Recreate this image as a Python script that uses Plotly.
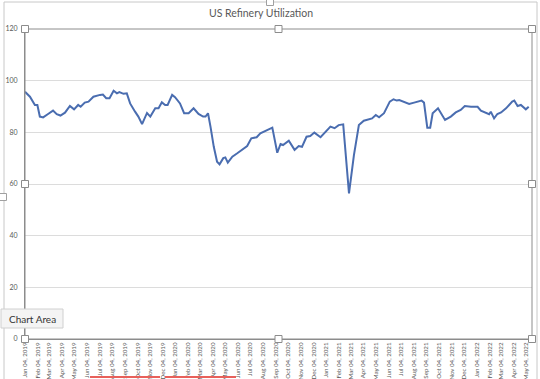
import plotly.graph_objects as go

dates = [
    "2019-01-04", "2019-01-16", "2019-01-28", "2019-02-03", "2019-02-09", "2019-02-17",
    "2019-03-01", "2019-03-13", "2019-03-22", "2019-03-31", "2019-04-11", "2019-04-23",
    "2019-05-03", "2019-05-13", "2019-05-19", "2019-05-29", "2019-06-07", "2019-06-19",
    "2019-07-05", "2019-07-12", "2019-07-20", "2019-07-28", "2019-08-07", "2019-08-15",
    "2019-08-21", "2019-08-31", "2019-09-08", "2019-09-16", "2019-09-28", "2019-10-06",
    "2019-10-15", "2019-10-27", "2019-11-04", "2019-11-16", "2019-11-24", "2019-12-02",
    "2019-12-10", "2019-12-16", "2019-12-27", "2020-01-03", "2020-01-15", "2020-01-25",
    "2020-02-05", "2020-02-17", "2020-02-29", "2020-03-11", "2020-03-17", "2020-03-23",
    "2020-03-29", "2020-04-06", "2020-04-14", "2020-04-20", "2020-04-29", "2020-05-04",
    "2020-05-10", "2020-05-21", "2020-06-02", "2020-06-14", "2020-06-26", "2020-07-06",
    "2020-07-19", "2020-07-28", "2020-08-09", "2020-08-17", "2020-08-26", "2020-09-07",
    "2020-09-15", "2020-09-21", "2020-10-05", "2020-10-19", "2020-10-29", "2020-11-06",
    "2020-11-17", "2020-11-26", "2020-12-06", "2020-12-21", "2021-01-02", "2021-01-14",
    "2021-01-24", "2021-02-03", "2021-02-14", "2021-02-28", "2021-03-12", "2021-03-24",
    "2021-04-05", "2021-04-17", "2021-04-25", "2021-05-04", "2021-05-12", "2021-05-24",
    "2021-05-28", "2021-06-07", "2021-06-16", "2021-06-24", "2021-06-30", "2021-07-24",
    "2021-08-05", "2021-08-23", "2021-08-29", "2021-09-06", "2021-09-13", "2021-09-19",
    "2021-10-02", "2021-10-19", "2021-11-02", "2021-11-14", "2021-11-26", "2021-12-06",
    "2021-12-21", "2022-01-06", "2022-01-14", "2022-01-26", "2022-02-03", "2022-02-07",
    "2022-02-15", "2022-02-23", "2022-03-04", "2022-03-16", "2022-03-31", "2022-04-05",
    "2022-04-13", "2022-04-21", "2022-05-03", "2022-05-10",
]

utilization = [
    95.7, 93.8, 90.6, 90.6, 86.1, 85.8,
    87.1, 88.4, 87.0, 86.5, 87.6, 90.2,
    88.9, 90.6, 89.9, 91.5, 91.9, 93.8,
    94.5, 94.6, 93.2, 93.2, 96.1, 95.1,
    95.6, 94.9, 95.1, 91.2, 88.0, 86.1,
    83.2, 87.5, 86.1, 89.3, 89.3, 91.6,
    90.6, 90.6, 94.5, 93.6, 91.2, 87.4,
    87.4, 89.3, 87.1, 86.1, 86.1, 87.4,
    82.2, 74.4, 68.6, 67.6, 70.0, 70.3,
    68.3, 70.6, 71.9, 73.2, 74.7, 77.7,
    78.1, 79.6, 80.6, 81.2, 81.8, 72.1,
    75.5, 75.1, 76.8, 73.2, 74.7, 74.4,
    78.3, 78.6, 79.9, 78.1, 80.3, 82.2,
    81.6, 82.8, 83.1, 56.4, 71.2, 82.8,
    84.5, 85.0, 85.4, 86.7, 85.8, 87.4,
    88.7, 91.9, 92.8, 92.3, 92.5, 91.0,
    91.5, 92.3, 91.5, 81.8, 81.8, 87.4,
    89.3, 84.8, 86.1, 87.7, 88.7, 90.2,
    89.9, 89.9, 88.4, 87.6, 87.0, 88.0,
    85.4, 87.1, 87.7, 89.3, 91.9, 92.3,
    90.2, 90.6, 88.9, 89.9,
]

y_ticks = [0, 20, 40, 60, 80, 100, 120]
title_text = "US Refinery Utilization"
tooltip_text = "Chart Area"

W, H = 540, 379
L, R, T, B = 25, 532, 29, 339


def px(x):
    return (x - L) / (R - L)


def py(y):
    return (B - y) / (B - T)


fig = go.Figure()
fig.add_trace(go.Scatter(
    x=dates, y=utilization, mode="lines",
    line=dict(color="#4a6db0", width=2),
    hoverinfo="skip", showlegend=False,
))

shapes = []
# outer chart area border
shapes.append(dict(type="rect", xref="paper", yref="paper",
                   x0=px(4), x1=px(537), y0=py(2), y1=py(390),
                   line=dict(color="#c8c8c8", width=1), layer="below"))
# plot area border
shapes.append(dict(type="rect", xref="paper", yref="paper",
                   x0=0, x1=1, y0=0, y1=1,
                   line=dict(color="#8c8c8c", width=1)))
# selection handles
for hx, hy in [(L, T), ((L + R) / 2, T), (R, T), (L, (T + B) / 2), (R, (T + B) / 2),
               (L, B), ((L + R) / 2, B), (R, B)]:
    shapes.append(dict(type="rect", xref="paper", yref="paper",
                       x0=px(hx - 3.5), x1=px(hx + 3.5), y0=py(hy + 3.5), y1=py(hy - 3.5),
                       line=dict(color="#8c8c8c", width=1), fillcolor="white"))
# outer handles
for hx, hy in [(270, 2), (3, 197)]:
    shapes.append(dict(type="rect", xref="paper", yref="paper",
                       x0=px(hx - 3.5), x1=px(hx + 3.5), y0=py(hy + 3.5), y1=py(hy - 3.5),
                       line=dict(color="#a0a0a0", width=1), fillcolor="white"))
# red underlines
for a, b in [(90, 160), (165, 236)]:
    shapes.append(dict(type="line", xref="paper", yref="paper",
                       x0=px(a), x1=px(b), y0=py(377), y1=py(377),
                       line=dict(color="#e8605a", width=2)))
# tooltip box
shapes.append(dict(type="rect", xref="paper", yref="paper",
                   x0=px(1), x1=px(63), y0=py(328), y1=py(309),
                   line=dict(color="#d0d0d0", width=1), fillcolor="#f4f4f4"))

fig.update_layout(
    width=W, height=H,
    margin=dict(l=L, r=W - R, t=T, b=H - B, autoexpand=False),
    paper_bgcolor="white", plot_bgcolor="white",
    title=dict(text=title_text, x=261 / W, xanchor="center", y=1 - 13 / H, yanchor="middle",
               font=dict(family="Lato", size=10.5, color="#595959")),
    xaxis=dict(
        type="date", range=["2019-01-04", "2022-05-18"],
        tick0="2019-01-04", dtick="M1", tickformat="%b %d, %Y",
        tickangle=-90, tickfont=dict(family="Lato", size=6.2, color="#595959"),
        showgrid=False, showline=True, linecolor="#8c8c8c", ticks="",
        automargin=False, zeroline=False, ticklabelstandoff=0,
    ),
    yaxis=dict(
        range=[0, 120], tickvals=y_ticks, ticktext=[str(v) for v in y_ticks],
        tickfont=dict(family="Lato", size=7, color="#595959"),
        showgrid=True, gridcolor="#dcdcdc", gridwidth=1,
        showline=True, linecolor="#8c8c8c", ticks="", ticklabelstandoff=5,
        automargin=False, zeroline=False,
    ),
    shapes=shapes,
    annotations=[dict(text=tooltip_text, xref="paper", yref="paper",
                      x=px(32), y=py(318.5), xanchor="center", yanchor="middle",
                      showarrow=False, font=dict(family="Lato", size=10, color="#333333"))],
)

fig.write_html("out.html",
               config={"displayModeBar": False, "staticPlot": True},
               post_script="document.body.style.margin='0';document.body.style.overflow='hidden';")
